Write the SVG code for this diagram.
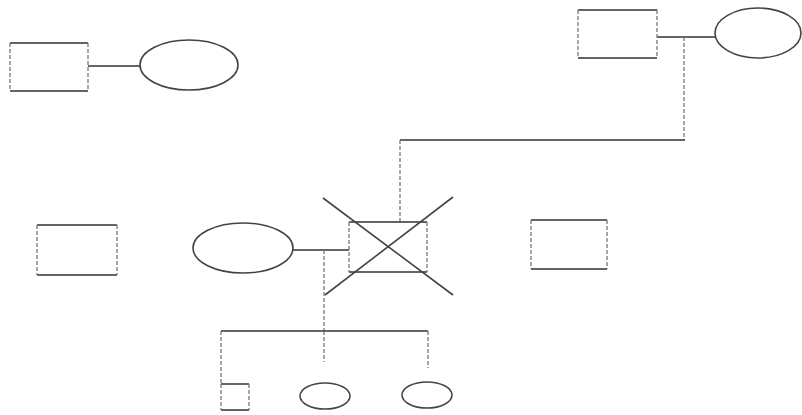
<svg xmlns="http://www.w3.org/2000/svg" width="802" height="415" viewBox="0 0 802 415">
<style>
.h{stroke:#333;stroke-width:1.6;fill:none}
.v{stroke:#777;stroke-width:1.3;fill:none;stroke-dasharray:4 2}
.e{stroke:#444;stroke-width:1.6;fill:none}
.x{stroke:#444;stroke-width:1.6;fill:none}
</style>
<rect width="802" height="415" fill="#fff"/>
<g id="connectors">
<line class="h" x1="88" y1="66" x2="140" y2="66"/>
<line class="h" x1="657" y1="37" x2="715" y2="37"/>
<line class="v" x1="684" y1="37" x2="684" y2="140"/>
<line class="h" x1="400" y1="140" x2="685" y2="140"/>
<line class="v" x1="400" y1="140" x2="400" y2="222"/>
<line class="h" x1="293" y1="250" x2="349" y2="250"/>
<line class="v" x1="324" y1="250" x2="324" y2="331"/>
<line class="h" x1="221" y1="331" x2="428" y2="331"/>
<line class="v" x1="221" y1="331" x2="221" y2="384"/>
<line class="v" x1="324" y1="331" x2="324" y2="362"/>
<line class="v" x1="428" y1="331" x2="428" y2="368"/>
</g>
<g id="m1">
<path class="h" d="M10 43H88M10 91H88"/><path class="v" d="M10 43V91M88 43V91"/>
</g>
<g id="f1"><ellipse class="e" cx="189" cy="65" rx="49" ry="25"/></g>
<g id="m2">
<path class="h" d="M578 10H657M578 58H657"/><path class="v" d="M578 10V58M657 10V58"/>
</g>
<g id="f2"><ellipse class="e" cx="758" cy="33" rx="43" ry="25"/></g>
<g id="m3">
<path class="h" d="M37 225H117M37 275H117"/><path class="v" d="M37 225V275M117 225V275"/>
</g>
<g id="f3"><ellipse class="e" cx="243" cy="248" rx="50" ry="25"/></g>
<g id="m4">
<path class="h" d="M349 222H427M349 272H427"/><path class="v" d="M349 222V272M427 222V272"/>
<line class="x" x1="323" y1="198" x2="453" y2="295"/>
<line class="x" x1="453" y1="197" x2="325" y2="295"/>
</g>
<g id="m5">
<path class="h" d="M531 220H607M531 269H607"/><path class="v" d="M531 220V269M607 220V269"/>
</g>
<g id="c1">
<path class="h" d="M221 384H249M221 410H249"/><path class="v" d="M221 384V410M249 384V410"/>
</g>
<g id="c2"><ellipse class="e" cx="325" cy="396" rx="25" ry="13"/></g>
<g id="c3"><ellipse class="e" cx="427" cy="395" rx="25" ry="13"/></g>
</svg>
